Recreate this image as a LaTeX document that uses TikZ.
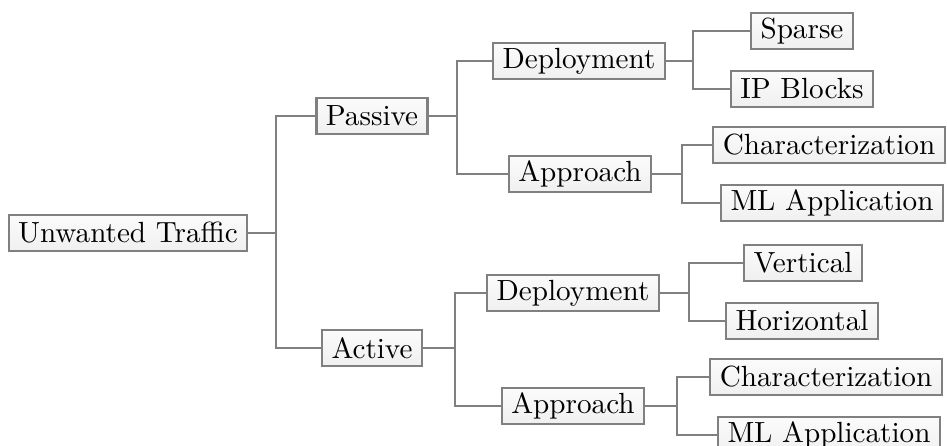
\documentclass[tikz,border=0pt]{standalone}
\usetikzlibrary{
	positioning,
	calc
}

\begin{document}
\begin{tikzpicture}[
		x=0.36pt, y=-0.36pt,
		every node/.style={
			draw=gray,
			line width=0.8pt,
			rectangle,
			top color=gray!3,
			bottom color=gray!12,
			minimum height=13pt,
			inner xsep=3.4pt,
			inner ysep=0pt,
			font=\fontsize{10.5}{12}\selectfont
		},
		link/.style={
			draw=gray,
			line width=0.8pt}
		]
		\useasboundingbox (0,0) rectangle (947,446);
		
		\node (traffic) at (128,233) {Unwanted Traffic};
		\node (passive) at (372,116) {Passive};
		\node (active) at (372,348) {Active};
		
		\node (pdeploy) at (579,61) {Deployment};
		\node (papproach) at (580,174) {Approach};
		\node (adeploy) at (573,293) {Deployment};
		\node (aapproach) at (573,406) {Approach};
		
		\node (sparse) at (802,31) {Sparse};
		\node (ipblocks) at (802,89) {IP Blocks};
		\node (pchar) at (829,145) {Characterization};
		\node (pml) at (832,203) {ML Application};
		\node (vertical) at (803,263) {Vertical};
		\node (horizontal) at (802,321) {Horizontal};
		\node (achar) at (826,377) {Characterization};
		\node (aml) at (829,435) {ML Application};
		
		\draw[link] (traffic.east) -- ++(28,0) |- (passive);
		\draw[link] (traffic.east) -- ++(28,0) |- (active);
		\draw[link] (passive.east) -- ++(28,0) |- (pdeploy);
		\draw[link] (passive.east) -- ++(28,0) |- (papproach);
		\draw[link] (active.east) -- ++(32,0) |- (adeploy);
		\draw[link] (active.east) -- ++(32,0) |- (aapproach);
		\draw[link] (pdeploy.east) -- ++(27,0) |- (sparse);
		\draw[link] (pdeploy.east) -- ++(27,0) |- (ipblocks);
		\draw[link] (papproach.east) -- ++(30,0) |- (pchar);
		\draw[link] (papproach.east) -- ++(30,0) |- (pml);
		\draw[link] (adeploy.east) -- ++(29,0) |- (vertical);
		\draw[link] (adeploy.east) -- ++(29,0) |- (horizontal);
		\draw[link] (aapproach.east) -- ++(32,0) |- (achar);
		\draw[link] (aapproach.east) -- ++(32,0) |- (aml);
	\end{tikzpicture}
\end{document}
